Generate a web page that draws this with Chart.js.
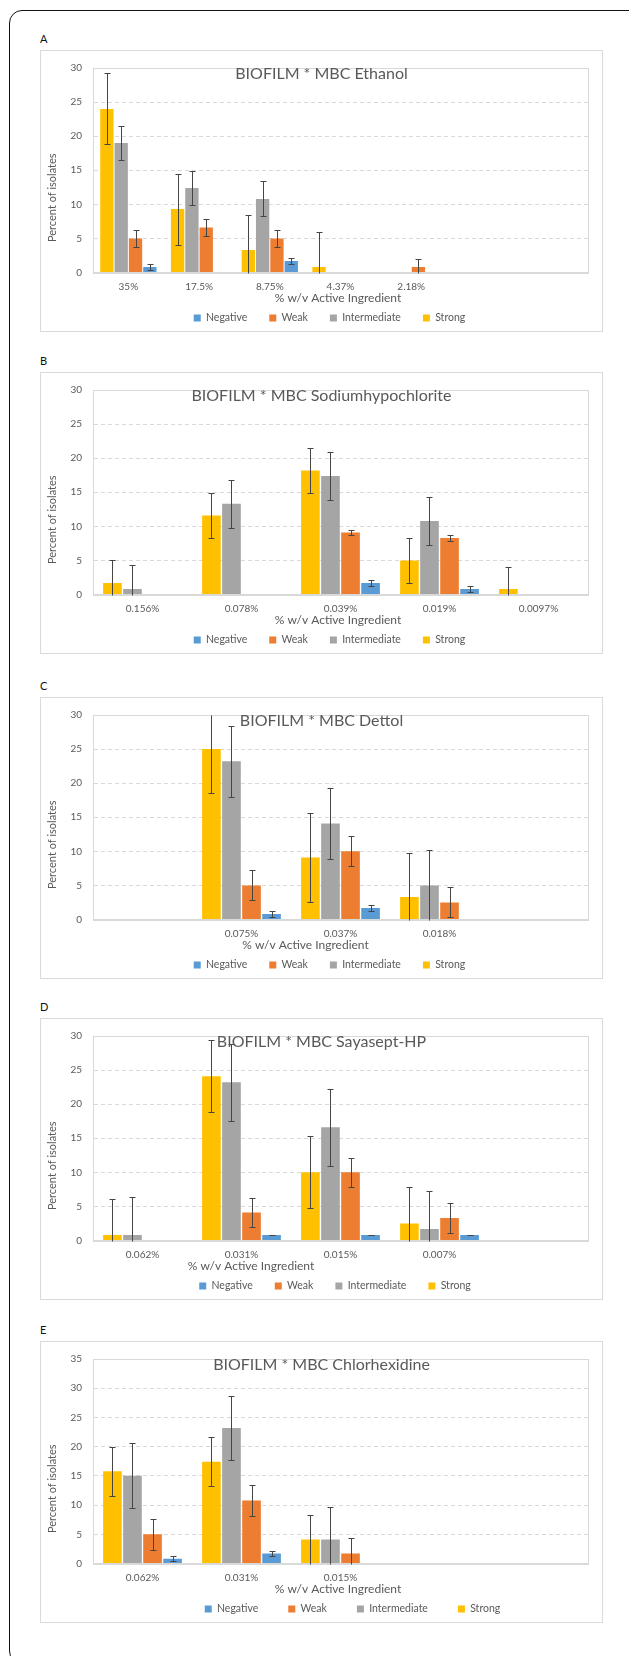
<!DOCTYPE html>
<html>
<head>
<meta charset="utf-8">
<script src="https://cdn.jsdelivr.net/npm/chart.js@4.4.1/dist/chart.umd.min.js"></script>
<style>
  html, body { margin: 0; padding: 0; background: #fff; }
  body { width: 629px; height: 1656px; position: relative; overflow: hidden; font-family: Lato, "Open Sans", sans-serif; }
  .frame { position: absolute; left: 9px; top: 10px; width: 700px; height: 1652px; border: 1.3px solid #111; border-radius: 13px; }
  .letter { position: absolute; left: 40px; font-size: 11px; line-height: 12px; color: #111; }
  .box { position: absolute; left: 40px; width: 561px; height: 280px; border: 1px solid #dadada; }
  canvas { position: absolute; left: 41px; }
</style>
</head>
<body>
<div class="frame"></div>
<script>
// values (percent of isolates), bars left to right: Strong, Intermediate, Weak, Negative
const seriesNames = ['Strong', 'Intermediate', 'Weak', 'Negative'];

// A - Ethanol
const ethanolLabels = ['35%', '17.5%', '8.75%', '4.37%', '2.18%', '', ''];
const ethanolStrong = [24.0, 9.3, 3.3, 0.8, null, null, null];
const ethanolIntermediate = [19.0, 12.4, 10.8, null, null, null, null];
const ethanolWeak = [5.0, 6.6, 5.0, null, 0.8, null, null];
const ethanolNegative = [0.8, null, 1.7, null, null, null, null];
const ethanolError = [5.2, 2.55, 1.25, 0.5];

// B - Sodiumhypochlorite
const hypoLabels = ['0.156%', '0.078%', '0.039%', '0.019%', '0.0097%'];
const hypoStrong = [1.7, 11.6, 18.2, 5.0, 0.8];
const hypoIntermediate = [0.8, 13.3, 17.4, 10.8, null];
const hypoWeak = [null, null, 9.1, 8.3, null];
const hypoNegative = [null, null, 1.7, 0.8, null];
const hypoError = [3.3, 3.55, 0.4, 0.45];

// C - Dettol
const dettolLabels = ['', '0.075%', '0.037%', '0.018%', ''];
const dettolStrong = [null, 25.0, 9.1, 3.3, null];
const dettolIntermediate = [null, 23.2, 14.1, 5.0, null];
const dettolWeak = [null, 5.0, 10.0, 2.5, null];
const dettolNegative = [null, 0.8, 1.7, null, null];
const dettolError = [6.5, 5.25, 2.2, 0.45];

// D - Sayasept-HP
const sayaLabels = ['0.062%', '0.031%', '0.015%', '0.007%', ''];
const sayaStrong = [0.8, 24.1, 10.0, 2.5, null];
const sayaIntermediate = [0.8, 23.2, 16.6, 1.7, null];
const sayaWeak = [null, 4.1, 10.0, 3.3, null];
const sayaNegative = [null, 0.8, 0.8, 0.8, null];
const sayaError = [5.3, 5.6, 2.15, 0.05];

// E - Chlorhexidine
const chlorLabels = ['0.062%', '0.031%', '0.015%', '', ''];
const chlorStrong = [15.8, 17.4, 4.1, null, null];
const chlorIntermediate = [15.0, 23.2, 4.1, null, null];
const chlorWeak = [5.0, 10.8, 1.7, null, null];
const chlorNegative = [0.8, 1.7, null, null, null];
const chlorError = [4.2, 5.55, 2.65, 0.45];

const FONT = 'Lato, "Open Sans", sans-serif';
const TEXT = '#595959';
const LINE = '#d9d9d9';
const colors = ['#FFC000', '#A5A5A5', '#ED7D31', '#5B9BD5'];

const panels = [
    { letter: 'A', top: 50, title: 'BIOFILM * MBC Ethanol', labels: ethanolLabels,
      series: [ethanolStrong, ethanolIntermediate, ethanolWeak, ethanolNegative], errors: ethanolError,
      yMax: 30, xTitleX: 297, legendShift: 15, legendPad: 22 },
    { letter: 'B', top: 372, title: 'BIOFILM * MBC Sodiumhypochlorite', labels: hypoLabels,
      series: [hypoStrong, hypoIntermediate, hypoWeak, hypoNegative], errors: hypoError,
      yMax: 30, xTitleX: 297, legendShift: 15, legendPad: 22 },
    { letter: 'C', top: 697, title: 'BIOFILM * MBC Dettol', labels: dettolLabels,
      series: [dettolStrong, dettolIntermediate, dettolWeak, dettolNegative], errors: dettolError,
      yMax: 30, xTitleX: 264.5, legendShift: 15, legendPad: 22 },
    { letter: 'D', top: 1018, title: 'BIOFILM * MBC Sayasept-HP', labels: sayaLabels,
      series: [sayaStrong, sayaIntermediate, sayaWeak, sayaNegative], errors: sayaError,
      yMax: 30, xTitleX: 210, legendShift: 20.5, legendPad: 22 },
    { letter: 'E', top: 1341, title: 'BIOFILM * MBC Chlorhexidine', labels: chlorLabels,
      series: [chlorStrong, chlorIntermediate, chlorWeak, chlorNegative], errors: chlorError,
      yMax: 35, xTitleX: 297, legendShift: 38, legendPad: 30 }
];

// plot frame (the light grey box round the plot area)
const frameBox = {
    id: 'frameBox',
    beforeDatasetsDraw(chart) {
        const { ctx, chartArea: a } = chart;
        ctx.save();
        ctx.strokeStyle = LINE;
        ctx.lineWidth = 1;
        ctx.strokeRect(Math.round(a.left) + 0.5, Math.round(a.top) + 0.5,
            Math.round(a.right - a.left), Math.round(a.bottom - a.top));
        ctx.restore();
    }
};

// error bars, clipped at the axis limits like Excel does
const errorBars = {
    id: 'errorBars',
    afterDatasetsDraw(chart, args, opts) {
        const { ctx } = chart;
        const y = chart.scales.y;
        ctx.save();
        ctx.strokeStyle = '#454545';
        ctx.lineWidth = 1;
        chart.data.datasets.forEach((ds, i) => {
            const meta = chart.getDatasetMeta(i);
            const err = opts.errors[i];
            ds.data.forEach((v, j) => {
                if (v == null) return;
                const x = Math.round(meta.data[j].x) + 0.5;
                const hi = v + err, lo = v - err;
                const yHi = Math.round(y.getPixelForValue(Math.min(hi, y.max))) + 0.5;
                const yLo = Math.round(y.getPixelForValue(Math.max(lo, y.min))) + 0.5;
                ctx.beginPath();
                ctx.moveTo(x, yHi);
                ctx.lineTo(x, yLo);
                if (hi <= y.max) { ctx.moveTo(x - 3, yHi); ctx.lineTo(x + 3, yHi); }
                if (lo >= y.min) { ctx.moveTo(x - 3, yLo); ctx.lineTo(x + 3, yLo); }
                ctx.stroke();
            });
        });
        ctx.restore();
    }
};

// chart title sits inside the plot top, axis titles placed like the original
const panelText = {
    id: 'panelText',
    afterLayout(chart, args, opts) {
        const lg = chart.legend;
        if (!lg) return;
        lg.left += opts.legendShift;
        lg.right += opts.legendShift;
        lg.top += opts.legendDrop;
        lg.bottom += opts.legendDrop;
    },
    afterDraw(chart, args, opts) {
        const { ctx, chartArea: a } = chart;
        ctx.save();
        ctx.fillStyle = TEXT;
        ctx.textAlign = 'center';
        ctx.textBaseline = 'middle';
        ctx.font = '16px ' + FONT;
        ctx.fillText(opts.title, chart.width / 2, a.top + 6);
        ctx.font = '12px ' + FONT;
        ctx.fillText('% w/v Active Ingredient', opts.xTitleX, a.bottom + 25.5);
        ctx.translate(11, (a.top + a.bottom) / 2 + 27.5);
        ctx.rotate(-Math.PI / 2);
        ctx.font = '11px ' + FONT;
        ctx.fillText('Percent of isolates', 0, 0);
        ctx.restore();
    }
};

const W = 561, PLOT_TOP = 14, PLOT_BOTTOM = 221.5, AXIS_H = 26, LEGEND_FONT = 10.5;
const LEGEND_Y = PLOT_BOTTOM + 45.5;

panels.forEach(p => {
    const letter = document.createElement('div');
    letter.className = 'letter';
    letter.textContent = p.letter;
    letter.style.top = (p.top - 17) + 'px';
    document.body.appendChild(letter);

    const box = document.createElement('div');
    box.className = 'box';
    box.style.top = p.top + 'px';
    document.body.appendChild(box);

    // canvas tall enough for axis labels, legend moved back up afterwards
    const legendH = LEGEND_FONT + p.legendPad + 10;
    const H = Math.ceil(PLOT_BOTTOM + AXIS_H + legendH);
    const axisH = H - legendH - PLOT_BOTTOM;
    const legendDrop = LEGEND_Y - (H - 10 - LEGEND_FONT / 2);

    const canvas = document.createElement('canvas');
    canvas.width = W;
    canvas.height = H;
    canvas.style.top = (p.top + 1) + 'px';
    document.body.appendChild(canvas);

    new Chart(canvas.getContext('2d'), {
        type: 'bar',
        data: {
            labels: p.labels,
            datasets: seriesNames.map((name, i) => ({
                label: name,
                data: p.series[i],
                backgroundColor: colors[i],
                borderWidth: 0,
                categoryPercentage: 0.81,
                barPercentage: 0.93
            }))
        },
        options: {
            responsive: false,
            animation: false,
            devicePixelRatio: 1,
            layout: { padding: { top: PLOT_TOP, right: 14, bottom: 0, left: 0 } },
            plugins: {
                title: { display: false },
                tooltip: { enabled: false },
                legend: {
                    position: 'bottom',
                    reverse: true,
                    labels: {
                        boxWidth: 7,
                        boxHeight: 7,
                        padding: p.legendPad,
                        color: TEXT,
                        font: { family: FONT, size: LEGEND_FONT }
                    }
                },
                errorBars: { errors: p.errors },
                panelText: { title: p.title, xTitleX: p.xTitleX, legendShift: p.legendShift, legendDrop: legendDrop }
            },
            scales: {
                x: {
                    grid: { display: false, drawTicks: false },
                    border: { display: true, color: LINE },
                    ticks: { color: TEXT, font: { family: FONT, size: 10 }, padding: 8.5, maxRotation: 0, autoSkip: false },
                    afterFit: s => { s.height = axisH; }
                },
                y: {
                    min: 0,
                    max: p.yMax,
                    grid: { color: LINE, drawTicks: false },
                    border: { display: true, color: LINE, dash: [4, 3] },
                    ticks: { stepSize: 5, color: TEXT, font: { family: FONT, size: 10 }, padding: 11 },
                    afterFit: s => { s.width = 52; }
                }
            }
        },
        plugins: [frameBox, errorBars, panelText]
    });
});
</script>
</body>
</html>
